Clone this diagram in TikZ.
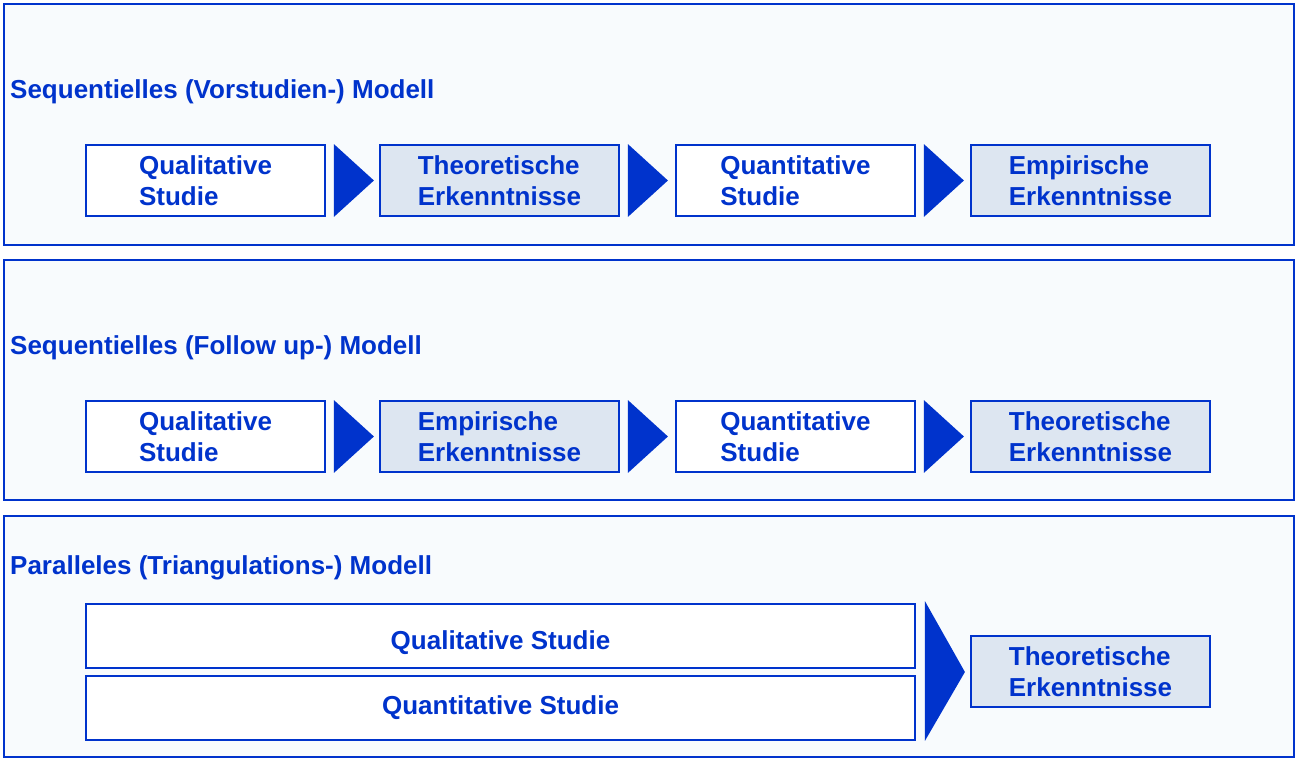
\documentclass[tikz,border=0pt]{standalone}
\usepackage{fontspec}
\setmainfont{Liberation Sans}
\usepackage{xcolor}
\usetikzlibrary{positioning,calc}
\definecolor{mmblue}{RGB}{0,51,204}
\definecolor{panelbg}{RGB}{248,251,253}
\definecolor{resultbg}{RGB}{221,230,241}
\tikzset{
  panel/.style={draw=mmblue,line width=2.6pt,fill=panelbg},
  studybox/.style={draw=mmblue,line width=1.8pt,fill=white,minimum width=239pt,
    minimum height=71pt,align=left,text=mmblue,inner sep=0pt,
    font=\fontsize{26}{31}\selectfont\bfseries},
  resultbox/.style={studybox,fill=resultbg},
  paneltitle/.style={anchor=base west,text=mmblue,inner sep=0pt,
    font=\fontsize{26}{31}\selectfont\bfseries},
  flowtip/.style={fill=mmblue}
}
\begin{document}
\begin{tikzpicture}[x=1pt,y=-1pt]
  \useasboundingbox (0,0) rectangle (1298,761);
  % three model panels
  \foreach \top/\bot in {4/245,260/500,516/757}
    \draw[panel] (4,\top) rectangle (1294,\bot);
  \node[paneltitle] (t1) at (10,98) {Sequentielles (Vorstudien-) Modell};
  \node[paneltitle] (t2) at (10,354) {Sequentielles (Follow up-) Modell};
  \node[paneltitle] (t3) at (10,574) {Paralleles (Triangulations-) Modell};
  % sequential rows: box names / texts / style
  \foreach \row/\yy/\bb/\cc/\dd in {
    a/180.5/Theoretische\\Erkenntnisse/Quantitative\\Studie/Empirische\\Erkenntnisse,
    b/436.5/Empirische\\Erkenntnisse/Quantitative\\Studie/Theoretische\\Erkenntnisse} {
    \node[studybox] (\row1) at (205.5,\yy) {Qualitative\\Studie};
    \node[resultbox] (\row2) at (499.5,\yy) {\bb};
    \node[studybox] (\row3) at (795.5,\yy) {\cc};
    \node[resultbox] (\row4) at (1090.5,\yy) {\dd};
    \foreach \i/\j in {1/2,2/3,3/4}
      \fill[flowtip] ([xshift=8pt]\row\i.north east) -- ([xshift=48pt]\row\i.east)
        -- ([xshift=8pt]\row\i.south east) -- cycle;
  }
  % parallel model
  \node[studybox,minimum width=829pt,minimum height=64pt,text height=28pt,text depth=1pt]
    (par1) at (500.5,636) {Qualitative Studie};
  \node[studybox,minimum width=829pt,minimum height=64pt] (par2) at (500.5,708) {Quantitative Studie};
  \node[resultbox] (par3) at (1090.5,671.5) {Theoretische\\Erkenntnisse};
  \fill[flowtip] ([xshift=9pt,yshift=2pt]par1.north east) -- ($(par1.north east)!0.5!(par2.south east)+(49pt,0)$)
    -- ([xshift=9pt]par2.south east) -- cycle;
\end{tikzpicture}
\end{document}
